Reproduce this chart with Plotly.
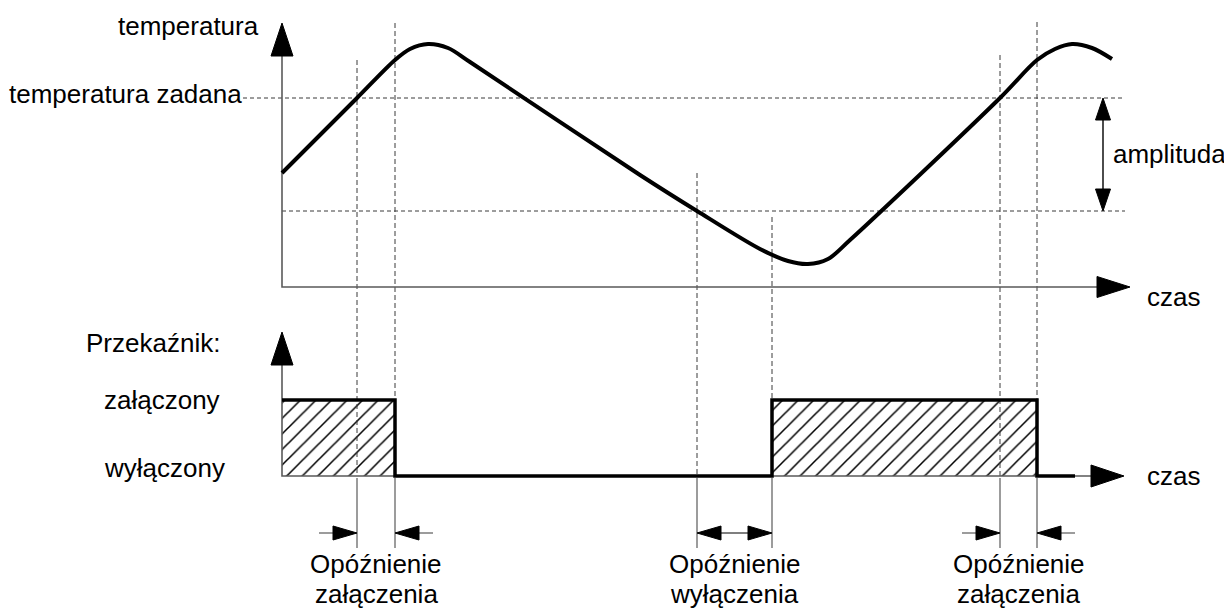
import plotly.graph_objects as go

# ---------------- data (diagram units: time along x, level along y, y grows downward) ----
curve_t = [282, 357, 395, 410, 428, 448, 470, 640, 697, 760, 788, 808, 828, 850, 1000, 1037, 1055, 1072, 1092, 1112]
curve_T = [173, 98, 60, 49, 44, 48, 62, 175, 211, 249, 261, 264, 259, 240, 98, 60, 49, 44, 48, 59]

setpoint_level = 98
lower_level = 211

relay_t = [282, 395, 395, 772, 772, 1037, 1037, 1075]
relay_state = [400, 400, 476, 476, 400, 400, 476, 476]
relay_on_level = 400
relay_off_level = 476
on_intervals = [(282, 395), (772, 1037)]

event_t = [357, 395, 697, 772, 1000, 1037]
event_top = [60, 23, 173, 217, 55, 22]

delay_pairs = [(357, 395, "in", "Opóźnienie", "załączenia"),
               (697, 772, "out", "Opóźnienie", "wyłączenia"),
               (1000, 1037, "in", "Opóźnienie", "załączenia")]

# ---------------- styles ----------------
FONT = dict(family="Liberation Sans, Arial, sans-serif", size=26, color="black")
AX = "#5a5a5a"
DASH_C = "#3a3a3a"
ORIGIN_X = 282
TOP_AXIS_Y = 287
TOP_AXIS_END = 1130
BOT_AXIS_END = 1124
TOP_Y_TIP = 23
BOT_Y_TIP = 332
DELAY_Y = 533
EXT_BOTTOM = 548
PAGE_OFFSET = 8  # default body margin of the html page
PAD = 3

fig = go.Figure()


def line(xs, ys, color, width, dash="solid"):
    fig.add_trace(go.Scatter(x=xs, y=ys, mode="lines", hoverinfo="skip",
                             line=dict(color=color, width=width, dash=dash)))


def tri(tipx, tipy, direction, length, half, color="black"):
    if direction == "up":
        xs = [tipx, tipx - half, tipx + half, tipx]
        ys = [tipy, tipy + length, tipy + length, tipy]
    elif direction == "down":
        xs = [tipx, tipx - half, tipx + half, tipx]
        ys = [tipy, tipy - length, tipy - length, tipy]
    elif direction == "right":
        xs = [tipx, tipx - length, tipx - length, tipx]
        ys = [tipy, tipy - half, tipy + half, tipy]
    else:
        xs = [tipx, tipx + length, tipx + length, tipx]
        ys = [tipy, tipy - half, tipy + half, tipy]
    fig.add_trace(go.Scatter(x=xs, y=ys, mode="lines", fill="toself", fillcolor=color,
                             line=dict(color=color, width=1), hoverinfo="skip"))


# hatched relay-on areas
for a, b in on_intervals:
    fig.add_trace(go.Scatter(
        x=[a, b, b, a, a], y=[relay_on_level, relay_on_level, relay_off_level, relay_off_level, relay_on_level],
        mode="lines", fill="toself", line=dict(width=0, color="rgba(0,0,0,0)"),
        fillcolor="white",
        fillpattern=dict(shape="/", size=11, solidity=0.14, fgcolor="black", bgcolor="white", fgopacity=1),
        hoverinfo="skip"))

# dashed horizontal reference lines
line([243, 1125], [setpoint_level, setpoint_level], DASH_C, 1, "4px,3px")
line([ORIGIN_X, 1125], [lower_level, lower_level], DASH_C, 1, "4px,3px")

# dashed vertical event lines
vx, vy = [], []
for t, top in zip(event_t, event_top):
    vx += [t, t, None]
    vy += [top, relay_off_level, None]
line(vx, vy, DASH_C, 1, "5px,3px")

# solid extension lines for delays
ex, ey = [], []
for t in event_t:
    ex += [t, t, None]
    ey += [relay_off_level + 2, EXT_BOTTOM, None]
line(ex, ey, AX, 1.2)

# axes
line([ORIGIN_X, ORIGIN_X, TOP_AXIS_END - 30], [TOP_Y_TIP + 30, TOP_AXIS_Y, TOP_AXIS_Y], AX, 1.6)
tri(ORIGIN_X, TOP_Y_TIP, "up", 33, 11)
tri(TOP_AXIS_END, TOP_AXIS_Y, "right", 33, 10.5)
line([ORIGIN_X, ORIGIN_X, BOT_AXIS_END - 30], [BOT_Y_TIP + 30, relay_off_level, relay_off_level], AX, 1.6)
tri(ORIGIN_X, BOT_Y_TIP, "up", 33, 11)
tri(BOT_AXIS_END, relay_off_level, "right", 33, 11)

# temperature curve
fig.add_trace(go.Scatter(x=curve_t, y=curve_T, mode="lines", hoverinfo="skip",
                         line=dict(color="black", width=4, shape="spline", smoothing=0.9)))

# relay state
fig.add_trace(go.Scatter(x=relay_t, y=relay_state, mode="lines", hoverinfo="skip",
                         line=dict(color="black", width=3.5)))

# amplitude double arrow
AMP_X = 1103
line([AMP_X, AMP_X], [setpoint_level + 15, lower_level - 15], "black", 1.4)
tri(AMP_X, setpoint_level, "up", 22, 7.5)
tri(AMP_X, lower_level, "down", 22, 7.5)

# delay arrows
for a, b, kind, l1, l2 in delay_pairs:
    if kind == "in":
        line([a - 38, a - 20], [DELAY_Y, DELAY_Y], AX, 1.2)
        tri(a, DELAY_Y, "right", 24, 7)
        line([b + 20, b + 38], [DELAY_Y, DELAY_Y], AX, 1.2)
        tri(b, DELAY_Y, "left", 24, 7)
    else:
        line([a + 20, b - 20], [DELAY_Y, DELAY_Y], "black", 1.2)
        tri(a, DELAY_Y, "left", 24, 7)
        tri(b, DELAY_Y, "right", 24, 7)
    cx = (a + b) / 2
    fig.add_annotation(x=cx, y=564, text=l1, showarrow=False, font=FONT, xanchor="center", yanchor="middle")
    fig.add_annotation(x=cx, y=594, text=l2, showarrow=False, font=FONT, xanchor="center", yanchor="middle")

# labels
labels = [
    (258, 26, "temperatura", "right"),
    (10, 94, "temperatura zadana", "left"),
    (1148, 297, "czas", "left"),
    (1114, 154, "amplituda", "left"),
    (87, 343, "Przekaźnik:", "left"),
    (105, 400, "załączony", "left"),
    (105, 468, "wyłączony", "left"),
    (1148, 476, "czas", "left"),
]
for x, y, txt, anc in labels:
    sx = -PAD if anc == "left" else PAD
    fig.add_annotation(x=x, y=y, text=txt, showarrow=False, font=FONT, xanchor=anc, yanchor="middle",
                       xshift=sx)

fig.update_layout(
    width=1232 - PAGE_OFFSET, height=610 - PAGE_OFFSET, margin=dict(l=0, r=0, t=0, b=0),
    paper_bgcolor="white", plot_bgcolor="white", showlegend=False,
    xaxis=dict(range=[PAGE_OFFSET, 1232], visible=False, fixedrange=True),
    yaxis=dict(range=[610, PAGE_OFFSET], visible=False, fixedrange=True),
)

fig.write_html("out.html")
